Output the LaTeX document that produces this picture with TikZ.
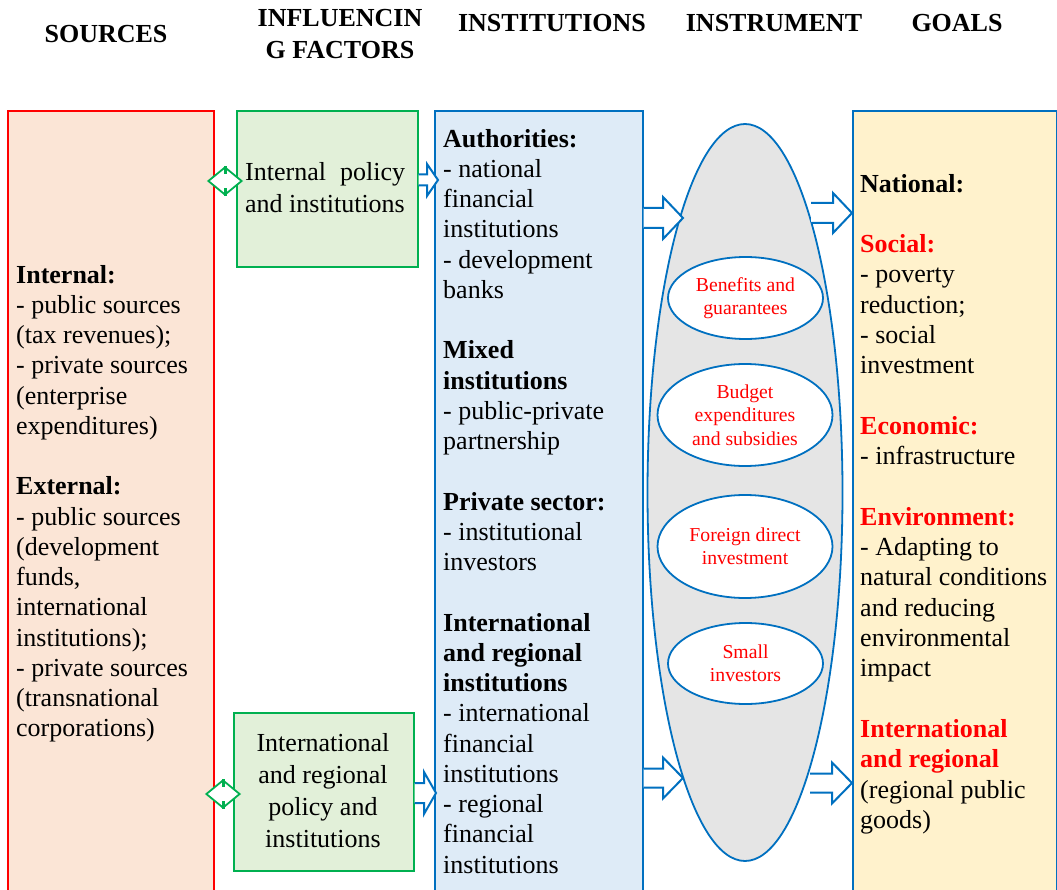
\documentclass[tikz,border=0pt]{standalone}
\usepackage{fontspec}
\setmainfont{Liberation Serif}
\usetikzlibrary{shapes.geometric,calc}
\definecolor{bl}{HTML}{0070C0}
\definecolor{gr}{HTML}{00B050}
\definecolor{rd}{HTML}{FF0000}
\definecolor{srcfill}{HTML}{FBE5D6}
\definecolor{grfill}{HTML}{E2F0D9}
\definecolor{infill}{HTML}{DEEBF7}
\definecolor{gofill}{HTML}{FFF2CC}
\definecolor{elfill}{HTML}{E5E5E5}
\tikzset{
  head/.style={font=\bfseries\fontsize{26}{30}\selectfont, anchor=base, inner sep=0pt, align=center},
  box/.style={rectangle, line width=1.6pt, anchor=north west, inner sep=0pt},
  body/.style={font=\fontsize{26}{30.25}\selectfont, anchor=base west, inner sep=0pt, align=left},
  eltext/.style={font=\fontsize{19.7}{23.5}\selectfont, text=rd, align=center, inner sep=0pt},
  smallel/.style={ellipse, draw=bl, fill=white, line width=1.8pt, inner sep=0pt},
  barr/.style={draw=bl, fill=white, line width=2pt, line join=miter},
  dmd/.style={diamond, draw=gr, fill=white, line width=1.8pt, inner sep=0pt, minimum width=34pt, minimum height=28pt},
  tick/.style={draw=gr, line width=3pt}
}
\newcommand\blockarr[5]{\filldraw[barr] let \p1=(#1), \p2=(#2) in (\x1,\y2+#3pt) -- (\x2-#5pt,\y2+#3pt) -- (\x2-#5pt,\y2+#4pt) -- (\x2,\y2) -- (\x2-#5pt,\y2-#4pt) -- (\x2-#5pt,\y2-#3pt) -- (\x1,\y2-#3pt);}
\begin{document}
\begin{tikzpicture}[x=1pt,y=-1pt]
\useasboundingbox[fill=white] (0,0) rectangle (1057,890);
% headings
\node[head] (h1) at (106,43) {SOURCES};
\node[head] (h2a) at (340,27) {INFLUENCIN};
\node[head] (h2b) at (340,59) {G FACTORS};
\node[head] (h3) at (552,32) {INSTITUTIONS};
\node[head] (h4) at (774,32) {INSTRUMENT};
\node[head] (h5) at (957,32) {GOALS};
% boxes
\node[box, draw=rd, fill=srcfill, minimum width=206pt, minimum height=790pt] (src) at (7,110) {};
\node[box, draw=gr, fill=grfill, minimum width=181pt, minimum height=156pt] (g1) at (236,110) {};
\node[box, draw=gr, fill=grfill, minimum width=180pt, minimum height=158pt] (g2) at (233,712) {};
\node[box, draw=bl, fill=infill, minimum width=208pt, minimum height=790pt] (inst) at (434,110) {};
\node[box, draw=bl, fill=gofill, minimum width=204pt, minimum height=790pt] (goals) at (852,110) {};
% big ellipse
\node[ellipse, draw=bl, fill=elfill, line width=1.8pt, inner sep=0pt, minimum width=195pt, minimum height=737pt] (big) at (745,492.5) {};
\node[smallel, minimum width=155pt, minimum height=82pt] (e1) at (745.5,298) {};
\node[smallel, minimum width=175pt, minimum height=102pt] (e2) at (745,415) {};
\node[smallel, minimum width=175pt, minimum height=103pt] (e3) at (745,546.5) {};
\node[smallel, minimum width=155pt, minimum height=81pt] (e4) at (745.5,663.5) {};
\node[eltext] (t1) at (e1.center) {Benefits and\\guarantees};
\node[eltext] (t2) at (e2.center) {Budget\\expenditures\\and subsidies};
\node[eltext] (t3) at (e3.center) {Foreign direct\\investment};
\node[eltext] (t4) at (e4.center) {Small\\investors};
% texts (anchored at the baseline of the last line)
\node[body] (srct) at (16,736.75) {\textbf{Internal:}\\- public sources\\(tax revenues);\\- private sources\\(enterprise\\expenditures)\\[30.25pt]\textbf{External:}\\- public sources\\(development\\funds,\\international\\institutions);\\- private sources\\(transnational\\corporations)};
\node[body] (instt) at (443,873) {\textbf{Authorities:}\\- national\\financial\\institutions\\- development\\banks\\[30.25pt]\textbf{Mixed}\\\textbf{institutions}\\- public-private\\partnership\\[30.25pt]\textbf{Private sector:}\\- institutional\\investors\\[30.25pt]\textbf{International}\\\textbf{and regional}\\\textbf{institutions}\\- international\\financial\\institutions\\- regional\\financial\\institutions};
\node[body, font=\fontsize{26}{30.3}\selectfont] (goalt) at (860,828.3) {\textbf{National:}\\[30.3pt]\textcolor{rd}{\textbf{Social:}}\\- poverty\\reduction;\\- social\\investment\\[30.3pt]\textcolor{rd}{\textbf{Economic:}}\\- infrastructure\\[30.3pt]\textcolor{rd}{\textbf{Environment:}}\\- Adapting to\\natural conditions\\and reducing\\environmental\\impact\\[30.3pt]\textcolor{rd}{\textbf{International}}\\\textcolor{rd}{\textbf{and regional}}\\(regional public\\goods)};
\node[body, font=\fontsize{26}{32}\selectfont] (g1t) at (245,213) {\makebox[160pt][s]{Internal policy}\\and institutions};
\node[font=\fontsize{26}{32}\selectfont, anchor=base, inner sep=0pt, align=center] (g2t) at (323,847) {International\\and regional\\policy and\\institutions};
% diamonds
\node[dmd] (d1) at (225,181) {};
\node[dmd] (d2) at (223,794) {};
\draw[tick] (d1.north) -- ++(0,8);
\draw[tick] (d1.south) -- ++(0,-8);
\draw[tick] (d2.north) -- ++(0,8);
\draw[tick] (d2.south) -- ++(0,-8);
% arrow coordinates
\coordinate (a1s) at (g1.east |- 0,180);
\coordinate (a1t) at (438,180);
\coordinate (a2s) at (g2.east |- 0,793);
\coordinate (a2t) at (436,793);
\coordinate (a3s) at (inst.east |- 0,218);
\coordinate (a3t) at (683,218);
\coordinate (a4s) at (inst.east |- 0,778);
\coordinate (a4t) at (683,778);
\coordinate (a5s) at (811,213);
\coordinate (a5t) at (goals.west |- 0,213);
\coordinate (a6s) at (810,783);
\coordinate (a6t) at (goals.west |- 0,783);
\blockarr{a1s}{a1t}{5.5}{16}{11}
\blockarr{a2s}{a2t}{10}{21}{12}
\blockarr{a3s}{a3t}{10}{21}{20}
\blockarr{a4s}{a4t}{9.5}{20.5}{20}
\blockarr{a5s}{a5t}{10}{20}{19}
\blockarr{a6s}{a6t}{9.5}{20.5}{20}
\end{tikzpicture}
\end{document}
